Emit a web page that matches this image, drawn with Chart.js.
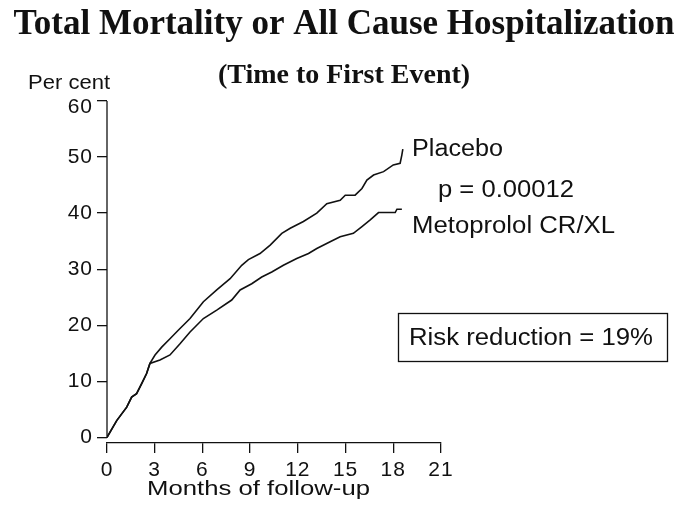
<!DOCTYPE html>
<html>
<head>
<meta charset="utf-8">
<script src="https://cdn.jsdelivr.net/npm/chart.js@4"></script>
<style>
    body { margin: 0; background: #fff; }
    #wrap { width: 692px; height: 509px; }
</style>
</head>
<body>
<div id="wrap"><canvas id="km-chart"></canvas></div>
<script>
// values (months, per cent)
const placeboMonths = [0, 0.61, 1.24, 1.55, 1.86, 2.18, 2.49, 2.7, 3.02, 3.44, 3.96, 4.48, 5.22, 6.06, 6.9, 7.74, 8.47, 8.89, 9.62, 10.26, 10.99, 11.52, 12.35, 13.19, 13.82, 14.66, 14.98, 15.6, 16.03, 16.34, 16.76, 17.39, 18.0, 18.43, 18.54, 18.6];
const placeboPct = [0, 3.0, 5.4, 7.2, 7.8, 9.6, 11.4, 13.2, 14.7, 16.1, 17.6, 19.1, 21.2, 24.2, 26.3, 28.3, 30.7, 31.7, 32.8, 34.3, 36.4, 37.3, 38.5, 40.0, 41.7, 42.3, 43.2, 43.2, 44.4, 45.9, 46.8, 47.4, 48.6, 48.9, 50.4, 51.4];

const metoMonths = [0, 0.61, 1.24, 1.55, 1.86, 2.18, 2.49, 2.7, 3.33, 3.96, 4.59, 5.22, 6.06, 6.9, 7.84, 8.37, 9.1, 9.73, 10.36, 11.09, 11.93, 12.67, 13.19, 14.03, 14.66, 15.49, 16.03, 16.55, 17.07, 18.12, 18.23, 18.54];
const metoPct = [0, 3.0, 5.4, 7.2, 7.8, 9.6, 11.4, 13.2, 13.8, 14.7, 16.7, 18.8, 21.2, 22.7, 24.5, 26.3, 27.4, 28.6, 29.5, 30.7, 31.9, 32.8, 33.7, 34.9, 35.8, 36.4, 37.6, 38.8, 40.1, 40.1, 40.7, 40.7];

const xTicks = [0, 3, 6, 9, 12, 15, 18, 21];
const yTicks = [0, 10, 20, 30, 40, 50, 60];

const sans = "'Liberation Sans', Arial, Helvetica, sans-serif";
const serif = "'Liberation Serif', 'Times New Roman', serif";
const ink = '#111';

function toPoints(xs, ys) {
    return xs.map((x, i) => ({ x: x, y: ys[i] }));
}

// the original sans lettering is wide: stretch it sideways to a given width
function wideText(ctx, text, left, baseline, size, width) {
    ctx.save();
    ctx.font = size + 'px ' + sans;
    ctx.textAlign = 'left';
    ctx.textBaseline = 'alphabetic';
    let sx = width / ctx.measureText(text).width;
    ctx.translate(left, baseline);
    ctx.scale(sx, 1);
    ctx.fillText(text, 0, 0);
    ctx.restore();
}

const spacingPlugin = {
    id: 'spacingPlugin',
    beforeDraw(chart) {
        chart.ctx.letterSpacing = '1px';
    }
};

const textPlugin = {
    id: 'textPlugin',
    afterDraw(chart) {
        const ctx = chart.ctx;
        const y = chart.scales.y;
        const x = chart.scales.x;
        ctx.save();
        ctx.letterSpacing = '0px';
        ctx.fillStyle = ink;
        ctx.strokeStyle = ink;

        // y axis line, only from 0 to 60
        ctx.lineWidth = 1.3;
        ctx.beginPath();
        ctx.moveTo(x.left, y.getPixelForValue(0));
        ctx.lineTo(x.left, y.getPixelForValue(60));
        ctx.stroke();

        ctx.textAlign = 'center';
        ctx.textBaseline = 'alphabetic';
        ctx.font = 'bold 35px ' + serif;
        ctx.fillText('Total Mortality or All Cause Hospitalization', 344, 34);
        ctx.font = 'bold 28px ' + serif;
        ctx.fillText('(Time to First Event)', 344, 83);

        wideText(ctx, 'Per cent', 28, 89, 20, 82);
        wideText(ctx, 'Months of follow-up', 147, 495, 21, 223);

        wideText(ctx, 'Placebo', 412, 156, 23, 91);
        wideText(ctx, 'p = 0.00012', 438, 197, 23, 136);
        wideText(ctx, 'Metoprolol CR/XL', 412, 233, 23, 203);

        ctx.lineWidth = 1.3;
        ctx.strokeRect(398.5, 313.5, 269, 48);
        wideText(ctx, 'Risk reduction = 19%', 409, 345, 23, 244);
        ctx.restore();
    }
};

const ctx = document.getElementById('km-chart').getContext('2d');
const chart = new Chart(ctx, {
    type: 'line',
    data: {
        datasets: [
            {
                label: 'Placebo',
                data: toPoints(placeboMonths, placeboPct),
                borderColor: ink,
                borderWidth: 1.6,
                pointRadius: 0,
                tension: 0,
                fill: false
            },
            {
                label: 'Metoprolol CR/XL',
                data: toPoints(metoMonths, metoPct),
                borderColor: ink,
                borderWidth: 1.6,
                pointRadius: 0,
                tension: 0,
                fill: false
            }
        ]
    },
    options: {
        responsive: true,
        maintainAspectRatio: false,
        animation: false,
        layout: {
            padding: { top: 101, right: 251, bottom: 0, left: 0 }
        },
        scales: {
            x: {
                type: 'linear',
                min: 0,
                max: 21,
                afterBuildTicks: function(scale) {
                    scale.ticks = xTicks.map(v => ({ value: v }));
                },
                afterFit: function(scale) {
                    scale.height = 66;
                },
                ticks: {
                    color: ink,
                    padding: 5,
                    maxRotation: 0,
                    font: { family: sans, size: 21 }
                },
                grid: {
                    drawOnChartArea: false,
                    tickLength: 10,
                    color: ink,
                    lineWidth: 1.3
                },
                border: { display: true, color: ink, width: 1.3 }
            },
            y: {
                min: -1,
                max: 60,
                afterBuildTicks: function(scale) {
                    scale.ticks = yTicks.map(v => ({ value: v }));
                },
                afterFit: function(scale) {
                    scale.width = 107;
                },
                ticks: {
                    color: ink,
                    padding: 4,
                    font: { family: sans, size: 21, lineHeight: 0.6 },
                    // top label sits a little below its tick, clear of "Per cent"
                    callback: function(value) {
                        return value === 60 ? ['', '60'] : String(value);
                    }
                },
                grid: {
                    drawOnChartArea: false,
                    tickLength: 10,
                    color: ink,
                    lineWidth: 1.3
                },
                border: { display: false }
            }
        },
        plugins: {
            legend: { display: false },
            tooltip: { enabled: false },
            title: { display: false }
        }
    },
    plugins: [spacingPlugin, textPlugin]
});
</script>
</body>
</html>
